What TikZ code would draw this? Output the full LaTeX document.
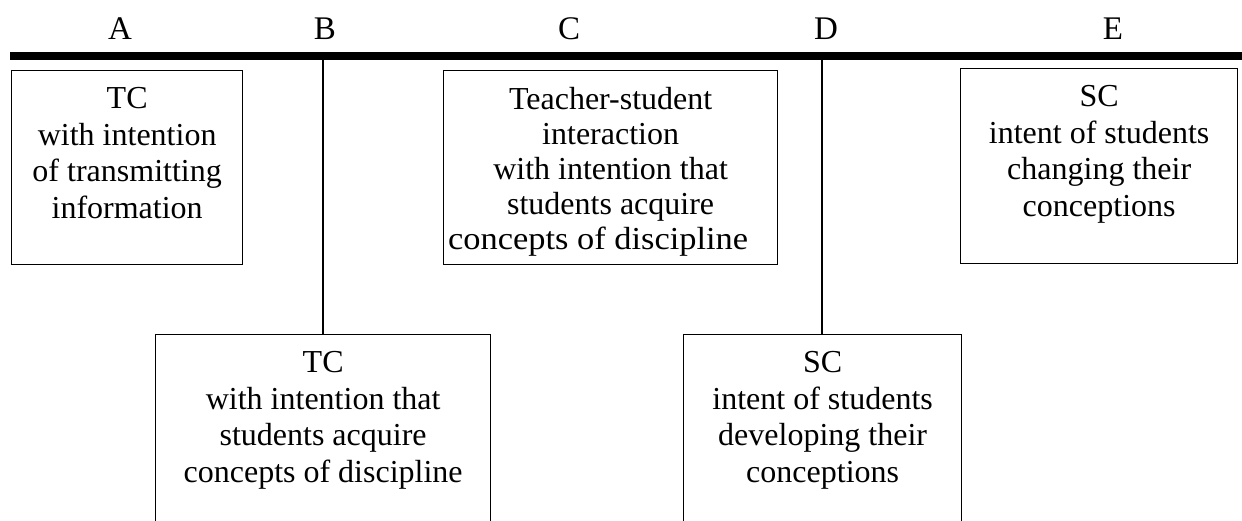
\documentclass[tikz,border=0pt]{standalone}
\usepackage{fontspec}
\setmainfont{Liberation Serif}
\begin{document}
\begin{tikzpicture}[x=1pt,y=-1pt,
  box/.style={draw, line width=1.3pt, fill=white, anchor=north west, inner sep=0pt},
  txt/.style={anchor=north, align=center, font=\fontsize{32}{36.7}\selectfont, inner sep=0pt},
  txtc/.style={txt, font=\fontsize{32}{35}\selectfont},
  hdr/.style={font=\fontsize{33}{36}\selectfont, inner sep=0pt},
  conn/.style={line width=1.4pt}]
\useasboundingbox (0,0) rectangle (1242,520);
\clip (0,0) rectangle (1242,520);
% header labels
\node[hdr] (hA) at (120,29) {A};
\node[hdr] (hB) at (325,29) {B};
\node[hdr] (hC) at (569,29) {C};
\node[hdr] (hD) at (826,29) {D};
\node[hdr] (hE) at (1113,29) {E};
% bar
\coordinate (barL) at (10,56);
\coordinate (barR) at (1242,56);
\draw[line width=7.5pt] (barL) -- (barR);
% boxes
\node[box, minimum width=231pt, minimum height=194pt] (boxA) at (11,70) {};
\node[box, minimum width=334pt, minimum height=194pt] (boxC) at (443,70) {};
\node[box, minimum width=277pt, minimum height=195pt] (boxE) at (960,68) {};
\node[box, minimum width=335pt, minimum height=220pt] (boxB) at (155,334) {};
\node[box, minimum width=278pt, minimum height=220pt] (boxD) at (683,334) {};
% connectors
\coordinate (tB) at (323,60);
\coordinate (tD) at (822,60);
\draw[conn] (tB) -- (tB |- boxB.north);
\draw[conn] (tD) -- (tD |- boxD.north);
% texts
\node[txt] (xA) at ([yshift=-17pt]boxA.north) {TC\\with intention\\of transmitting\\information};
\node[txtc] (xC) at ([yshift=-17pt]boxC.north) {Teacher-student\\interaction\\with intention that\\students acquire\\\scalebox{1.075}[1]{concepts of discipline}\hspace*{25pt}};
\node[txt] (xE) at ([yshift=-17pt]boxE.north) {SC\\intent of students\\changing their\\conceptions};
\node[txt] (xB) at ([yshift=-17pt]boxB.north) {TC\\with intention that\\students acquire\\concepts of discipline};
\node[txt] (xD) at ([yshift=-17pt]boxD.north) {SC\\intent of students\\developing their\\conceptions};
\end{tikzpicture}
\end{document}
